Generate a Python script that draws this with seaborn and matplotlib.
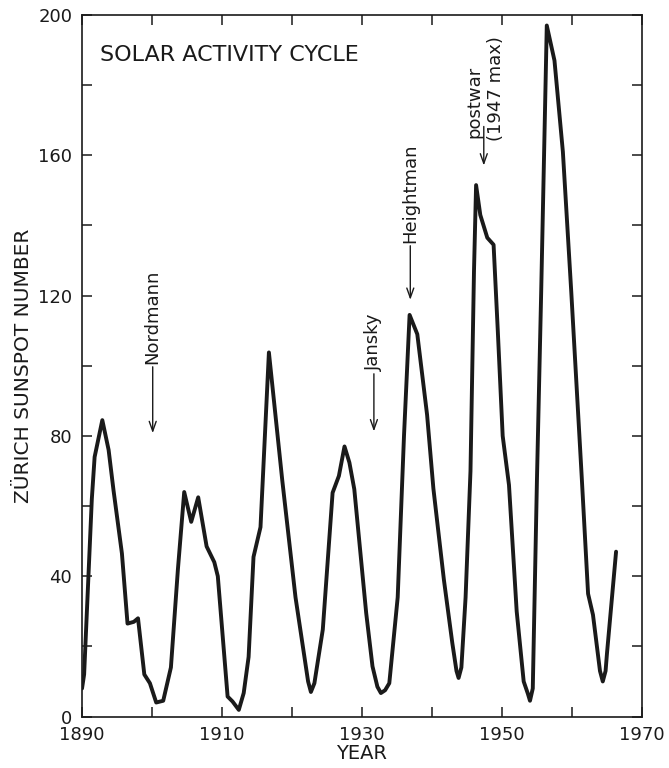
import pandas as pd
import matplotlib
matplotlib.use("Agg")
import matplotlib.pyplot as plt
import seaborn as sns
from matplotlib.ticker import MultipleLocator, FixedLocator

# годовые значения
years = [1890.0, 1890.3, 1891.4, 1891.8, 1892.9, 1893.8, 1894.5, 1895.7, 1896.5, 1897.4,
         1898.0, 1898.9, 1899.7, 1900.6, 1901.6, 1902.7, 1903.7, 1904.6, 1905.6, 1906.6,
         1907.8, 1908.9, 1909.4, 1910.8, 1911.5, 1912.4, 1913.1, 1913.8, 1914.5, 1915.5,
         1916.7, 1918.6, 1920.5, 1922.3, 1922.7, 1923.2, 1924.4, 1925.8, 1926.7, 1927.5,
         1928.2, 1928.9, 1930.6, 1931.5, 1932.2, 1932.7, 1933.3, 1933.9, 1935.1, 1936.0,
         1936.8, 1937.9, 1939.3, 1940.2, 1941.7, 1942.9, 1943.5, 1943.8, 1944.2, 1944.8,
         1945.5, 1946.0, 1946.3, 1946.9, 1947.9, 1948.8, 1949.4, 1950.1, 1951.0, 1952.1,
         1953.1, 1953.7, 1954.0, 1954.4, 1955.0, 1955.6, 1956.4, 1957.5, 1958.7, 1959.9,
         1961.4, 1962.3, 1963.0, 1964.0, 1964.4, 1964.8, 1965.0, 1966.3]
sunspots = [8, 12, 62, 74, 84.5, 76, 64.5, 46.5, 26.5, 27,
            28, 12, 9.5, 4, 4.5, 14, 42, 64, 55.5, 62.5,
            48.5, 44, 40, 5.7, 4.3, 1.9, 6.7, 17, 45.5, 54,
            103.8, 67.5, 34, 10, 7, 9.5, 24.8, 63.8, 68.6, 77,
            72.4, 64.8, 29.5, 14.3, 8.5, 6.7, 7.5, 9.5, 34, 80,
            114.5, 109, 86, 65, 39, 21, 13, 11, 14, 34,
            70, 127, 151.5, 143, 136.5, 134.5, 110, 80, 66, 30,
            10, 6.5, 4.5, 8, 68, 121, 197, 187, 161, 121,
            68, 35, 29, 13, 10, 13, 18, 47]

year_labels = [1890, 1910, 1930, 1950, 1970]

# стрелки с подписями: (текст, год, конец стрелки, начало стрелки)
notes = [("Nordmann", 1900.1, 80, 100.5),
         ("Jansky", 1931.7, 80.5, 98.5),
         ("Heightman", 1936.9, 118, 135)]

df = pd.DataFrame({"year": years, "ssn": sunspots})

sns.set_style("ticks")
plt.rcParams["font.family"] = ["DejaVu Sans"]
ink = "#1a1a1a"

fig = plt.figure(figsize=(6.69, 7.68), dpi=100)
ax = fig.add_axes([0.1226, 0.067, 0.837, 0.9135])

sns.lineplot(data=df, x="year", y="ssn", ax=ax, color=ink, linewidth=2.8,
             estimator=None, sort=False)
ax.lines[0].set_solid_joinstyle("round")

ax.set_xlim(1890, 1970)
ax.set_ylim(0, 200)
ax.xaxis.set_major_locator(FixedLocator(year_labels))
ax.xaxis.set_minor_locator(MultipleLocator(10))
ax.yaxis.set_major_locator(MultipleLocator(40))
ax.yaxis.set_minor_locator(MultipleLocator(20))
ax.tick_params(which="both", direction="in", top=True, right=True,
               length=7, width=1.1, color=ink)
ax.tick_params(which="major", labelsize=13, labelcolor=ink, pad=7)
for s in ax.spines.values():
    s.set_linewidth(1.2)
    s.set_color(ink)

ax.set_xlabel("YEAR", fontsize=14, color=ink, labelpad=0)
ax.set_ylabel("ZÜRICH SUNSPOT NUMBER", fontsize=14.5, color=ink, labelpad=4)

ax.text(1892.5, 188.5, "SOLAR ACTIVITY CYCLE", fontsize=16, color=ink,
        ha="left", va="center")

arrow = dict(arrowstyle="->,head_length=0.7,head_width=0.25", lw=1.0, color=ink)
for label, x, tip, top in notes:
    ax.annotate("", xy=(x, tip), xytext=(x, top), arrowprops=arrow)
    ax.text(x, top, label, rotation=90, ha="center", va="bottom",
            fontsize=13, color=ink)

# postwar (1947 max)
ax.annotate("", xy=(1947.4, 156.3), xytext=(1947.4, 169), arrowprops=arrow)
ax.text(1947.3, 164.8, "postwar", rotation=90, ha="right", va="bottom",
        fontsize=13, color=ink)
ax.text(1947.8, 164, "(1947 max)", rotation=90, ha="left", va="bottom",
        fontsize=13, color=ink)

fig.savefig("out.png", dpi=100)
